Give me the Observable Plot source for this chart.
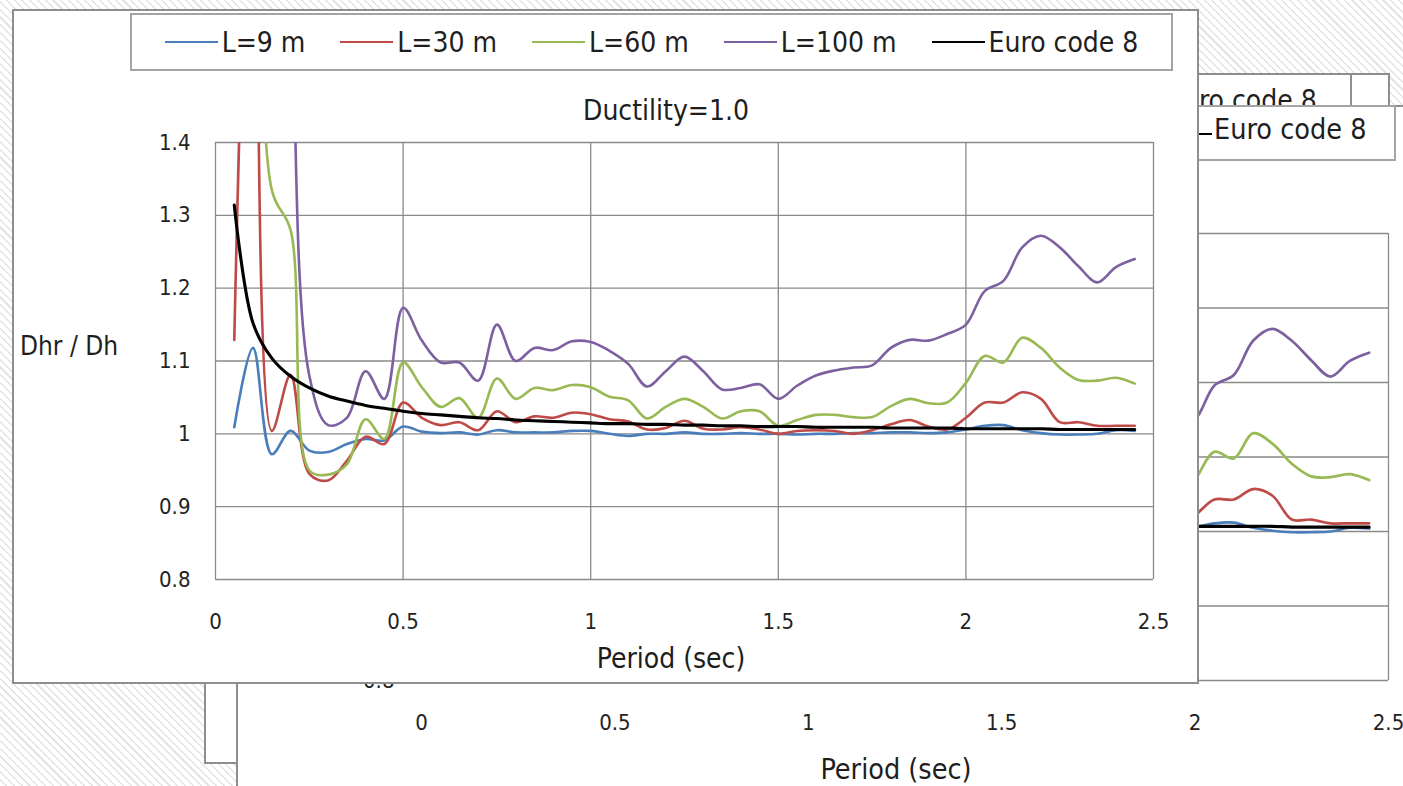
<!DOCTYPE html>
<html><head><meta charset="utf-8">
<script src="https://cdn.jsdelivr.net/npm/d3@7"></script>
<script src="https://cdn.jsdelivr.net/npm/@observablehq/plot@0.6"></script>
<style>
html,body{margin:0;padding:0;width:1403px;height:786px;overflow:hidden;}
body{position:relative;background-color:#fff;
 background-image:repeating-linear-gradient(45deg,#ffffff 0px,#ffffff 4px,#e4e4e4 4px,#e4e4e4 5.5px);
 font-family:"Liberation Sans Narrow","DejaVu Sans Condensed","Open Sans",sans-serif;color:#1e1e1e;}
.abs{position:absolute;}
.box{position:absolute;background:#fff;border:2px solid #8e8e8e;box-sizing:border-box;}
.ctr{position:absolute;transform:translate(-50%,-50%);white-space:nowrap;}
#front{left:12px;top:9px;width:1187px;height:675px;}
#legend{left:130px;top:13px;width:1043px;height:58px;border:2px solid #a4a4a4;background:#fff;position:absolute;box-sizing:border-box;
 display:flex;align-items:center;justify-content:center;gap:35px;font-size:28px;}
.item{display:flex;align-items:center;}
.sw{width:53px;height:0;border-top:2.5px solid #000;margin-right:4px;}
</style></head>
<body>
<div id="root"></div>
<script>
// ---------- data ----------
const period = [0.05,0.10,0.15,0.20,0.25,0.30,0.35,0.40,0.45,0.50,0.55,0.60,0.65,0.70,0.75,0.80,0.85,0.90,0.95,1.00,
  1.05,1.10,1.15,1.20,1.25,1.30,1.35,1.40,1.45,1.50,1.55,1.60,1.65,1.70,1.75,1.80,1.85,1.90,1.95,2.00,
  2.05,2.10,2.15,2.20,2.25,2.30,2.35,2.40,2.45];
const L9 = [1.009,1.118,0.972,1.004,0.977,0.975,0.986,0.993,0.991,1.010,1.003,1.001,1.002,0.999,1.005,1.002,1.002,1.002,1.004,1.004,
  1.000,0.997,1.000,1.000,1.002,1.000,1.000,1.001,1.000,1.000,0.999,1.000,1.000,1.001,1.001,1.002,1.002,1.001,1.002,1.006,
  1.011,1.012,1.005,1.001,0.999,0.999,1.000,1.005,1.004];
const L30 = [1.129,1.900,1.004,1.081,0.945,0.936,0.963,0.996,0.986,1.043,1.022,1.012,1.016,1.005,1.031,1.016,1.024,1.022,1.029,1.027,
  1.020,1.017,1.006,1.008,1.018,1.007,1.006,1.009,1.006,1.000,1.004,1.005,1.004,1.000,1.005,1.013,1.019,1.010,1.006,1.022,
  1.043,1.043,1.057,1.048,1.016,1.016,1.011,1.011,1.011];
const L60 = [2.000,2.200,1.335,1.280,0.950,0.944,0.958,1.020,0.993,1.098,1.064,1.037,1.049,1.022,1.076,1.048,1.063,1.060,1.067,1.064,
  1.051,1.046,1.021,1.037,1.048,1.037,1.021,1.031,1.031,1.011,1.019,1.026,1.026,1.023,1.023,1.038,1.048,1.042,1.043,1.070,
  1.107,1.098,1.132,1.118,1.091,1.074,1.073,1.077,1.069];
const L100 = [2.600,3.000,2.600,1.700,1.080,1.012,1.022,1.086,1.048,1.173,1.128,1.098,1.098,1.073,1.150,1.100,1.118,1.115,1.127,1.126,
  1.114,1.096,1.065,1.086,1.106,1.086,1.061,1.063,1.068,1.048,1.066,1.080,1.087,1.091,1.094,1.118,1.129,1.128,1.137,1.150,
  1.196,1.210,1.256,1.272,1.256,1.230,1.208,1.229,1.240];
const EC8 = [1.314,1.152,1.104,1.079,1.063,1.052,1.045,1.039,1.035,1.031,1.028,1.026,1.024,1.022,1.021,1.019,1.018,1.017,1.016,1.015,
  1.014,1.014,1.013,1.013,1.012,1.012,1.011,1.011,1.010,1.010,1.010,1.009,1.009,1.009,1.009,1.008,1.008,1.008,1.008,1.007,
  1.007,1.007,1.007,1.007,1.006,1.006,1.006,1.006,1.006];
const seriesNames = ["L=9 m","L=30 m","L=60 m","L=100 m","Euro code 8"];
const seriesColors = ["#4a7ebb","#be4b48","#98b954","#7d60a0","#000000"];
const xTicks = [0,0.5,1,1.5,2,2.5];
const xTickLabels = ["0","0.5","1","1.5","2","2.5"];
const yTicks = [0.8,0.9,1,1.1,1.2,1.3,1.4];
const yTickLabels = ["0.8","0.9","1","1.1","1.2","1.3","1.4"];
const titleText = "Ductility=1.0";
const xLabel = "Period (sec)";
const yLabel = "Dhr / Dh";

// ---------- table ----------
const seriesValues = [L9, L30, L60, L100, EC8];
const rows = seriesValues.flatMap((vals, s) => vals.map((v, i) => ({series: seriesNames[s], period: period[i], value: v})));
const colored = rows.filter(d => d.series !== "Euro code 8");
const black = rows.filter(d => d.series === "Euro code 8");

const FONT = '"Liberation Sans Narrow","DejaVu Sans Condensed","Open Sans",sans-serif';

function chart(o) {
  return Plot.plot({
    width: o.width, height: o.height,
    marginLeft: o.ml, marginRight: o.mr, marginTop: o.mt, marginBottom: o.mb,
    style: {background: "transparent", fontFamily: FONT, fontSize: o.fs + "px", color: "#222", overflow: "visible"},
    x: {domain: [0, 2.5], axis: null, label: null},
    y: {domain: [0.8, 1.4], axis: null, label: null},
    color: {domain: seriesNames, range: seriesColors},
    marks: [
      Plot.gridX(xTicks, {stroke: "#8a8a8a", strokeOpacity: 1, strokeWidth: 1.3}),
      Plot.gridY(yTicks, {stroke: "#8a8a8a", strokeOpacity: 1, strokeWidth: 1.3}),
      Plot.axisX(xTicks, {tickSize: 0, tickPadding: o.xpad, tickFormat: (d, i) => xTickLabels[i], fontSize: o.fs, label: null}),
      Plot.axisY(yTicks, {tickSize: 0, tickPadding: o.ypad, tickFormat: (d, i) => yTickLabels[i], fontSize: o.fs, label: null}),
      Plot.line(colored, {x: "period", y: "value", z: "series", stroke: "series", strokeWidth: o.sw, curve: "catmull-rom", clip: true}),
      Plot.line(black, {x: "period", y: "value", stroke: "series", strokeWidth: o.sw + 0.5, curve: "catmull-rom", clip: true})
    ]
  });
}

const root = document.getElementById("root");
function el(tag, cls, css, text) {
  const e = document.createElement(tag);
  if (cls) e.className = cls;
  if (css) e.style.cssText = css;
  if (text != null) e.textContent = text;
  return e;
}

// ---------- far layer (3) ----------
const l3 = el("div", "box", "left:900px;top:73px;width:490px;height:35px;overflow:hidden;border-bottom:none;");
l3.appendChild(el("div", "abs", "left:448px;top:0;width:0;height:60px;border-left:2px solid #8e8e8e;"));
l3.appendChild(el("div", "abs", "left:265px;top:9px;font-size:28px;line-height:34px;", "Euro code 8"));
root.appendChild(l3);
root.appendChild(el("div", "box", "left:204px;top:660px;width:40px;height:104px;"));

// ---------- back layer (2) ----------
const back = el("div", "box", "left:236px;top:105px;width:1200px;height:720px;border-right:none;border-bottom:none;");
root.appendChild(back);
const backLeg = el("div", "box", "left:700px;top:105px;width:696px;height:56px;border-color:#a4a4a4;");
backLeg.appendChild(el("div", "abs", "left:490px;top:26px;width:20px;border-top:2.5px solid #000;"));
backLeg.appendChild(el("div", "abs", "left:512px;top:6px;font-size:28.5px;", seriesNames[4]));
root.appendChild(backLeg);
const backPlotWrap = el("div", "abs", "left:237px;top:106px;width:1166px;height:680px;");
backPlotWrap.appendChild(chart({width: 1166, height: 680, ml: 184, mr: 15, mt: 127, mb: 106, fs: 22, xpad: 34, ypad: 27, sw: 2.7}));
root.appendChild(backPlotWrap);
root.appendChild(el("div", "ctr", "left:896px;top:769px;font-size:28.5px;", xLabel));

// ---------- front chart ----------
const front = el("div", "box", "");
front.id = "front";
root.appendChild(front);
const leg = el("div", "", "");
leg.id = "legend";
seriesNames.forEach((n, i) => {
  const it = el("div", "item", "");
  it.appendChild(el("div", "sw", "border-top-color:" + seriesColors[i] + ";"));
  it.appendChild(el("span", "", "", n));
  leg.appendChild(it);
});
root.appendChild(leg);
root.appendChild(el("div", "ctr", "left:666px;top:110px;font-size:28px;", titleText));
root.appendChild(el("div", "abs", "left:20px;top:331px;font-size:26px;", yLabel));
root.appendChild(el("div", "ctr", "left:671px;top:658px;font-size:28px;", xLabel));
const frontWrap = el("div", "abs", "left:14px;top:125px;width:1180px;height:555px;");
frontWrap.appendChild(chart({width: 1180, height: 555, ml: 201, mr: 41, mt: 17, mb: 101, fs: 22, xpad: 34, ypad: 25, sw: 2.6}));
root.appendChild(frontWrap);
</script>
</body></html>
